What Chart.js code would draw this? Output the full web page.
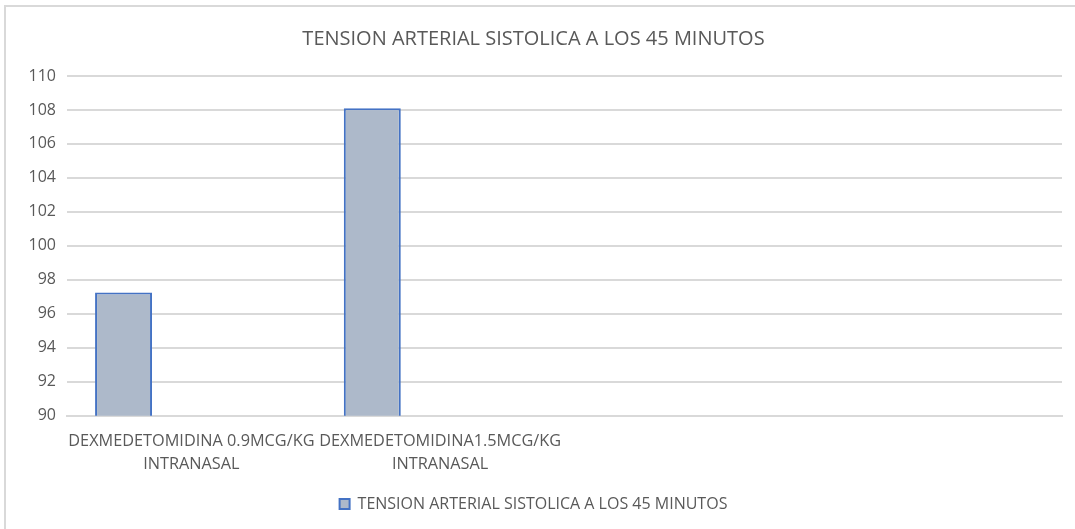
<!DOCTYPE html>
<html>
<head>
<meta charset="utf-8">
<script src="https://cdn.jsdelivr.net/npm/chart.js@4"></script>
<style>
  body { margin: 0; background: #fff; }
  #frame { position: absolute; left: 4px; top: 5px; width: 1090px; height: 540px; border: 2px solid #d9d9d9; box-sizing: border-box; pointer-events: none; }
  #wrap { position: absolute; left: 0; top: 0; width: 1075px; height: 529px; }
</style>
</head>
<body>
<div id="wrap"><canvas id="myChart1" width="1075" height="529"></canvas></div>
<div id="frame"></div>
<script>
var chartTitle = "TENSION ARTERIAL SISTOLICA A LOS 45 MINUTOS";
var categories = [
  ["DEXMEDETOMIDINA 0.9MCG/KG", "INTRANASAL"],
  ["DEXMEDETOMIDINA1.5MCG/KG", "INTRANASAL"],
  "",
  ""
];
var seriesName = "TENSION ARTERIAL SISTOLICA A LOS 45 MINUTOS";
var sistolica = [97.25, 108.1, null, null];
// empty series in the original sheet, they only take up slots next to the bars
var emptySeries2 = [null, null, null, null];
var emptySeries3 = [null, null, null, null];
var yMin = 90, yMax = 110, yStep = 2;

var fontFam = "'Open Sans', sans-serif";
var grey = "#595959";

var ctx = document.getElementById('myChart1').getContext('2d');
var myChart = new Chart(ctx, {
  type: 'bar',
  data: {
    labels: categories,
    datasets: [{
      label: seriesName,
      data: sistolica,
      backgroundColor: "#adb9ca",
      borderColor: "#4472c4",
      borderWidth: 2,
      categoryPercentage: 0.818,
      barPercentage: 0.84
    }, {
      label: "",
      data: emptySeries2,
      categoryPercentage: 0.818,
      barPercentage: 0.84
    }, {
      label: "",
      data: emptySeries3,
      categoryPercentage: 0.818,
      barPercentage: 0.84
    }]
  },
  options: {
    responsive: false,
    animation: false,
    layout: { padding: { left: 5, right: 13, top: 27, bottom: 7 } },
    plugins: {
      title: {
        display: true,
        text: chartTitle,
        color: grey,
        font: { family: fontFam, size: 20, weight: 'normal' },
        padding: { top: 0, bottom: 25 }
      },
      legend: {
        position: 'bottom',
        labels: {
          filter: function (item) { return item.text !== ""; },
          color: grey,
          font: { family: fontFam, size: 16 },
          boxWidth: 10,
          boxHeight: 10,
          padding: 6
        }
      },
      tooltip: { enabled: false }
    },
    scales: {
      x: {
        grid: { display: false, drawTicks: false },
        border: { display: true, color: "#d9d9d9", width: 2 },
        ticks: {
          color: grey,
          font: { family: fontFam, size: 16.3, lineHeight: 1.36 },
          maxRotation: 0,
          minRotation: 0,
          autoSkip: false,
          padding: 15
        }
      },
      y: {
        min: yMin,
        max: yMax,
        afterFit: function (scale) { scale.width = 62; },
        grid: { color: "#d9d9d9", lineWidth: 2, drawTicks: false },
        border: { display: false },
        ticks: {
          stepSize: yStep,
          color: grey,
          font: { family: fontFam, size: 16 },
          padding: 11
        }
      }
    }
  }
});
</script>
</body>
</html>
